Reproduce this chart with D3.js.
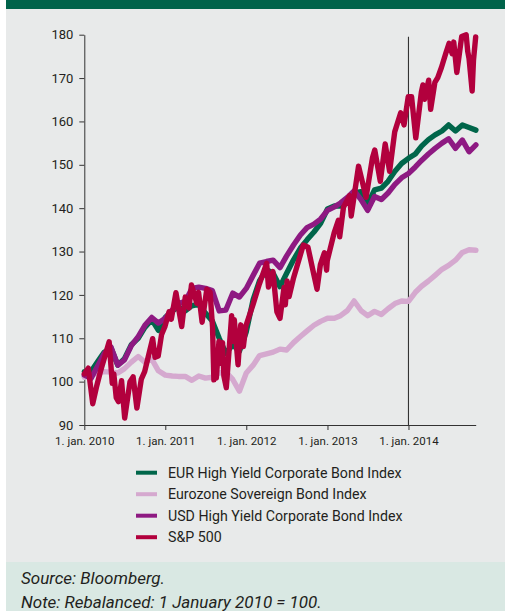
<!DOCTYPE html>
<html>
<head>
<meta charset="utf-8">
<script src="https://cdn.jsdelivr.net/npm/d3@7"></script>
<style>
  body { margin: 0; background: #fff; }
  svg { display: block; font-family: Roboto, "Open Sans", sans-serif; }
</style>
</head>
<body>
<svg id="chart" width="515" height="611"></svg>
<script>
// monthly index levels, 1 Jan 2010 = 100
const eurHY = [102.3,102.4,104.5,106.8,107.8,103.8,105.3,108.5,110,112.5,114.3,111.8,
  114.8,116.3,117.2,116.3,117.5,117.8,115.8,114,110,106.5,108.5,107,
  111.5,118.9,123.3,125.8,125,121.9,125,128.1,130.8,132.7,134.5,136.5,
  139.8,140.5,140.5,142.2,143.5,143.8,141,144.2,144.6,146.2,148.5,150.3,
  151.5,152.5,154.3,155.8,156.9,157.8,159.2,157.8,159.2,158.6,158];

const ezSov = [101,101.5,102,102.3,102.2,102,103,104.5,105.8,104.5,105.2,102.5,
  101.5,101.3,101.2,101.2,100.3,101.3,100.8,101,102,102.2,100.5,97.8,
  102,103.8,106,106.4,106.8,107.5,107.3,109,110.4,111.7,113,113.9,
  114.6,114.6,115.2,116.4,118.6,116.4,115.2,116.2,115.5,116.8,118,118.6,
  118.5,120.6,122,123.2,124.5,125.9,126.8,128,129.8,130.4,130.3];

const usdHY = [101.5,100.8,103.5,106.5,108,103.8,105,108.3,110.4,113,114.8,113.5,
  114.6,116.5,118,118.5,121.5,121.8,121.5,121,116.3,116.5,120.4,119.5,
  121.5,124.5,127.3,127.7,128,126.3,129,131.5,133.8,135.5,136.3,137.5,
  139.5,140.3,141.2,142.5,144,142,139.5,142.7,142,143.5,145.5,147,
  148,149.5,151,152.5,153.8,155,156,153.8,155.7,153,154.6];

// S&P 500 turning points
const sp500 = [
  ["2010-01-01",101.8],["2010-01-19",103.1],["2010-02-08",94.9],["2010-02-26",99],["2010-03-15",102.4],
  ["2010-04-23",109.2],["2010-05-07",99.6],["2010-05-14",101.8],["2010-05-25",96.3],["2010-06-04",95.4],
  ["2010-06-18",100.2],["2010-07-02",91.6],["2010-07-26",100],["2010-08-09",101.1],["2010-08-26",93.9],
  ["2010-09-15",100.6],["2010-09-30",102.3],["2010-10-15",105.5],["2010-11-05",109.9],["2010-11-16",105.6],
  ["2010-11-30",105.9],["2010-12-15",110.8],["2010-12-31",112.8],
  ["2011-01-18",116.1],["2011-01-28",114.4],["2011-02-18",120.5],["2011-03-16",112.7],["2011-04-01",119.5],
  ["2011-04-18",117],["2011-04-29",122.3],["2011-05-23",118.1],["2011-05-31",120.6],["2011-06-16",113.7],
  ["2011-07-07",121.3],["2011-07-22",120.6],["2011-08-02",112.5],["2011-08-08",100.4],["2011-08-12",105.7],
  ["2011-08-19",100.8],["2011-08-31",109.3],["2011-09-12",104.2],["2011-09-16",109],["2011-09-22",101.3],
  ["2011-10-03",98.6],["2011-10-27",115.2],["2011-11-01",109.3],["2011-11-08",114.3],["2011-11-25",103.9],
  ["2011-12-07",113.1],["2011-12-19",108.1],["2011-12-30",112.8],
  ["2012-01-31",117.7],["2012-02-29",122.5],["2012-04-02",127.3],["2012-04-10",121.8],["2012-04-30",125.4],
  ["2012-05-18",116.1],["2012-06-01",114.6],["2012-06-19",121.7],["2012-06-25",117.7],["2012-07-03",123.2],
  ["2012-07-12",119.6],["2012-07-31",123.7],["2012-08-20",127.2],["2012-09-14",131.5],["2012-10-05",131],
  ["2012-10-23",126.7],["2012-11-15",121.3],["2012-11-30",127],["2012-12-18",129.7],["2012-12-28",125.7],
  ["2012-12-31",127.9],
  ["2013-01-31",134.3],["2013-02-19",137.2],["2013-02-25",133.4],["2013-03-14",140.2],["2013-04-11",142.9],
  ["2013-04-18",138.2],["2013-05-21",149.7],["2013-06-24",142.5],["2013-07-23",151.7],["2013-08-02",153.4],
  ["2013-08-27",146.2],["2013-09-18",154.8],["2013-10-08",148.5],["2013-10-31",157.6],["2013-11-27",162],
  ["2013-12-12",159.2],["2013-12-31",165.7],
  ["2014-01-15",165.7],["2014-02-03",156.2],["2014-02-28",166.7],["2014-03-07",168.4],["2014-03-14",165.1],
  ["2014-04-02",169.5],["2014-04-11",162.8],["2014-04-30",169],["2014-05-13",170.1],["2014-05-30",172.5],
  ["2014-06-20",176],["2014-07-03",178],["2014-07-17",175.6],["2014-07-24",178.3],["2014-08-07",171.3],
  ["2014-08-29",179.6],["2014-09-18",180],["2014-09-25",176.2],["2014-10-01",174.5],["2014-10-15",167],
  ["2014-10-21",174.1],["2014-10-31",179.5]
];

const seriesNames = ["EUR High Yield Corporate Bond Index", "Eurozone Sovereign Bond Index",
  "USD High Yield Corporate Bond Index", "S&P 500"];
const seriesColors = ["#00664a", "#d5a9cf", "#8e1a82", "#b2003d"];
const yTicks = [90, 100, 110, 120, 130, 140, 150, 160, 170, 180];
const xTickYears = [2010, 2011, 2012, 2013, 2014];
const notes = ["Source: Bloomberg.", "Note: Rebalanced: 1 January 2010 = 100."];

const parse = d3.timeParse("%Y-%m-%d");
const months = d3.timeMonth.range(new Date(2010, 0, 1), new Date(2014, 11, 1));

const svg = d3.select("#chart");

// panels
svg.append("rect").attr("x", 6).attr("y", 0).attr("width", 499).attr("height", 562).attr("fill", "#e8eaea");
svg.append("rect").attr("x", 6).attr("y", 0).attr("width", 499).attr("height", 9).attr("fill", "#00634a");
svg.append("rect").attr("x", 6).attr("y", 562).attr("width", 499).attr("height", 49).attr("fill", "#d9e8e3");

const x = d3.scaleTime()
  .domain([new Date(2010, 0, 1), new Date(2014, 9, 31)])
  .range([84.3, 475.7]);
const y = d3.scaleLinear().domain([90, 180]).range([425, 34.7]);

// axes
const yAxis = svg.append("g")
  .attr("transform", "translate(84.3,0)")
  .call(d3.axisLeft(y).tickValues(yTicks).tickSize(5).tickSizeOuter(0).tickPadding(6));
yAxis.selectAll("text").style("font-size", "13px");

const xAxis = svg.append("g")
  .attr("transform", "translate(0,425)")
  .call(d3.axisBottom(x)
    .tickValues(xTickYears.map(yr => new Date(yr, 0, 1)))
    .tickFormat(d => "1. jan. " + d.getFullYear())
    .tickSize(5).tickSizeOuter(0).tickPadding(7));
xAxis.selectAll("text").style("font-size", "11.5px");

svg.selectAll(".domain, .tick line").attr("stroke", "#333");
svg.selectAll(".tick text").attr("fill", "#231f20").style("font-family", "Roboto, sans-serif");

// 1 Jan 2014 marker
svg.append("line")
  .attr("x1", x(new Date(2014, 0, 1))).attr("x2", x(new Date(2014, 0, 1)))
  .attr("y1", 36.7).attr("y2", 425)
  .attr("stroke", "#333").attr("stroke-width", 1.1);

const line = d3.line()
  .x(d => x(d[0]))
  .y(d => y(d[1]))
  .curve(d3.curveLinear);

const monthly = arr => arr.map((v, i) => [months[i], v]);
const lines = [
  monthly(eurHY),
  monthly(ezSov),
  monthly(usdHY),
  sp500.map(d => [parse(d[0]), d[1]])
];
const drawOrder = [1, 0, 2, 3];

drawOrder.forEach(i => {
  svg.append("path")
    .datum(lines[i])
    .attr("fill", "none")
    .attr("stroke", seriesColors[i])
    .attr("stroke-width", 5.4)
    .attr("stroke-linejoin", "round")
    .attr("stroke-linecap", "round")
    .attr("d", line);
});

// legend
const legend = svg.append("g");
seriesNames.forEach((name, i) => {
  const ly = 472.7 + i * 21.5;
  legend.append("line")
    .attr("x1", 136).attr("x2", 157).attr("y1", ly).attr("y2", ly)
    .attr("stroke", seriesColors[i]).attr("stroke-width", 4);
  legend.append("text")
    .attr("x", 168).attr("y", ly).attr("dy", "0.35em")
    .attr("fill", "#231f20")
    .style("font-size", "14.2px")
    .text(name);
});

// footer notes
notes.forEach((t, i) => {
  svg.append("text")
    .attr("x", 21).attr("y", 584 + i * 23.5)
    .attr("fill", "#231f20")
    .style("font-size", "17px")
    .style("font-style", "italic")
    .text(t);
});
</script>
</body>
</html>
